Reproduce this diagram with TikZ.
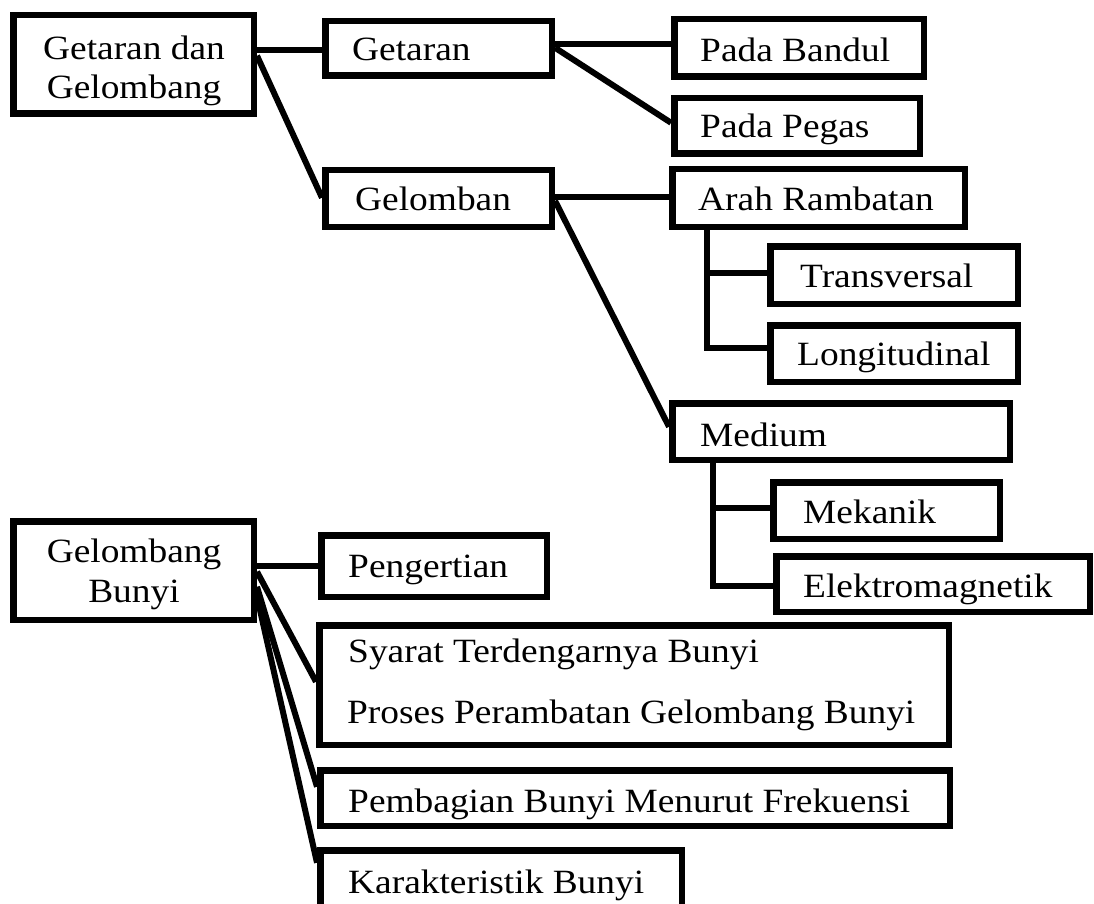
\documentclass[tikz,border=0pt]{standalone}
\usepackage{fontspec}
\setmainfont{Liberation Serif}[FakeStretch=1.1]
\begin{document}
\begin{tikzpicture}[x=1pt,y=-1pt,
  box/.style={draw,line width=6.5pt,inner sep=0pt,rectangle},
  lbl/.style={font=\fontsize{34}{40}\selectfont,inner sep=0pt,anchor=base west},
  lblc/.style={font=\fontsize{34}{40}\selectfont,inner sep=0pt,anchor=base},
  link/.style={line width=6pt}]
\useasboundingbox (0,0) rectangle (1094,904);
\clip (0,0) rectangle (1094,904);

% ---- boxes ----
\node[box,minimum width=240.5pt,minimum height=98.5pt] (gdg) at (133.5,64.5) {};
\node[box,minimum width=226.5pt,minimum height=54.5pt] (getaran) at (438.5,48.5) {};
\node[box,minimum width=226.5pt,minimum height=56.5pt] (gelomban) at (438.5,198.5) {};
\node[box,minimum width=249.5pt,minimum height=57.5pt] (bandul) at (799,48) {};
\node[box,minimum width=245.5pt,minimum height=55.5pt] (pegas) at (797,126) {};
\node[box,minimum width=292.5pt,minimum height=57.5pt] (arah) at (818.5,198) {};
\node[box,minimum width=247.5pt,minimum height=57.5pt] (trans) at (894,275) {};
\node[box,minimum width=247.5pt,minimum height=56.5pt] (longi) at (894,353.5) {};
\node[box,minimum width=337.5pt,minimum height=56.5pt] (medium) at (841,431.5) {};
\node[box,minimum width=226.5pt,minimum height=56.5pt] (mekanik) at (886.5,510.5) {};
\node[box,minimum width=313.5pt,minimum height=55.5pt] (elektro) at (933,584) {};
\node[box,minimum width=240.5pt,minimum height=98.5pt] (gb) at (133.5,570.5) {};
\node[box,minimum width=225.5pt,minimum height=61.5pt] (pengertian) at (434,566) {};
\node[box,minimum width=629.5pt,minimum height=119.5pt] (syarat) at (634,685) {};
\node[box,minimum width=629.5pt,minimum height=55.5pt] (pembagian) at (635,798) {};
\node[box,minimum width=361.5pt,minimum height=76.5pt] (karakter) at (501,888.5) {};

% ---- labels ----
\node[lblc] (tgdg1) at (134,60) {Getaran dan};
\node[lblc] (tgdg2) at (134,99) {Gelombang};
\node[lbl] (tgetaran) at (352,61) {Getaran};
\node[lbl] (tgelomban) at (355,211) {Gelomban};
\node[lbl] (tbandul) at (700,62) {Pada Bandul};
\node[lbl] (tpegas) at (700,138) {Pada Pegas};
\node[lbl] (tarah) at (698,210) {Arah Rambatan};
\node[lbl] (ttrans) at (800,287) {Transversal};
\node[lbl] (tlongi) at (797,365) {Longitudinal};
\node[lbl] (tmedium) at (700,446) {Medium};
\node[lbl] (tmekanik) at (803,523) {Mekanik};
\node[lbl] (telektro) at (803,597) {Elektromagnetik};
\node[lblc] (tgb1) at (134,562) {Gelombang};
\node[lblc] (tgb2) at (134,602) {Bunyi};
\node[lbl] (tpengertian) at (348,577) {Pengertian};
\node[lbl] (tsyarat) at (348,662) {Syarat Terdengarnya Bunyi};
\node[lbl] (tproses) at (347,723) {Proses Perambatan Gelombang Bunyi};
\node[lbl] (tpembagian) at (348,812) {Pembagian Bunyi Menurut Frekuensi};
\node[lbl] (tkarakter) at (348,893) {Karakteristik Bunyi};

% ---- connectors ----
\draw[link] ([yshift=-37.75pt]gdg.north east) -- ([yshift=-31.75pt]getaran.north west);
\draw[link] ([yshift=-43.75pt]gdg.north east) -- ([yshift=-30.75pt]gelomban.north west);
\draw[link] ([yshift=-25.75pt]getaran.north east) -- ([yshift=-27.75pt]bandul.north west);
\draw[link] ([yshift=-29.75pt]getaran.north east) -- ([yshift=-27.75pt]pegas.north west);
\draw[link] ([yshift=-29.75pt]gelomban.north east) -- ([yshift=-30.75pt]arah.north west);
\draw[link] ([yshift=-33.75pt]gelomban.north east) -- ([yshift=-26.75pt]medium.north west);

\coordinate (arahT) at ([xshift=37.75pt]arah.south west);
\coordinate (transIn) at ([yshift=-29.75pt]trans.north west);
\coordinate (longiIn) at ([yshift=-25.75pt]longi.north west);
\draw[link] (arahT) |- (longiIn);
\draw[link] (arahT |- transIn) -- (transIn);

\coordinate (medT) at ([xshift=43.75pt]medium.south west);
\coordinate (mekIn) at ([yshift=-28.75pt]mekanik.north west);
\coordinate (elekIn) at ([yshift=-32.75pt]elektro.north west);
\draw[link] (medT) |- (elekIn);
\draw[link] (medT |- mekIn) -- (mekIn);

\draw[link] ([yshift=-47.75pt]gb.north east) -- ([yshift=-33.75pt]pengertian.north west);
\draw[link] ([yshift=-53.75pt]gb.north east) -- ([yshift=-59.75pt]syarat.north west);
\draw[link] ([yshift=-68.75pt]gb.north east) -- ([yshift=-19.75pt]pembagian.north west);
\draw[link] ([yshift=-78.75pt]gb.north east) -- ([yshift=-15.75pt]karakter.north west);
\end{tikzpicture}
\end{document}
